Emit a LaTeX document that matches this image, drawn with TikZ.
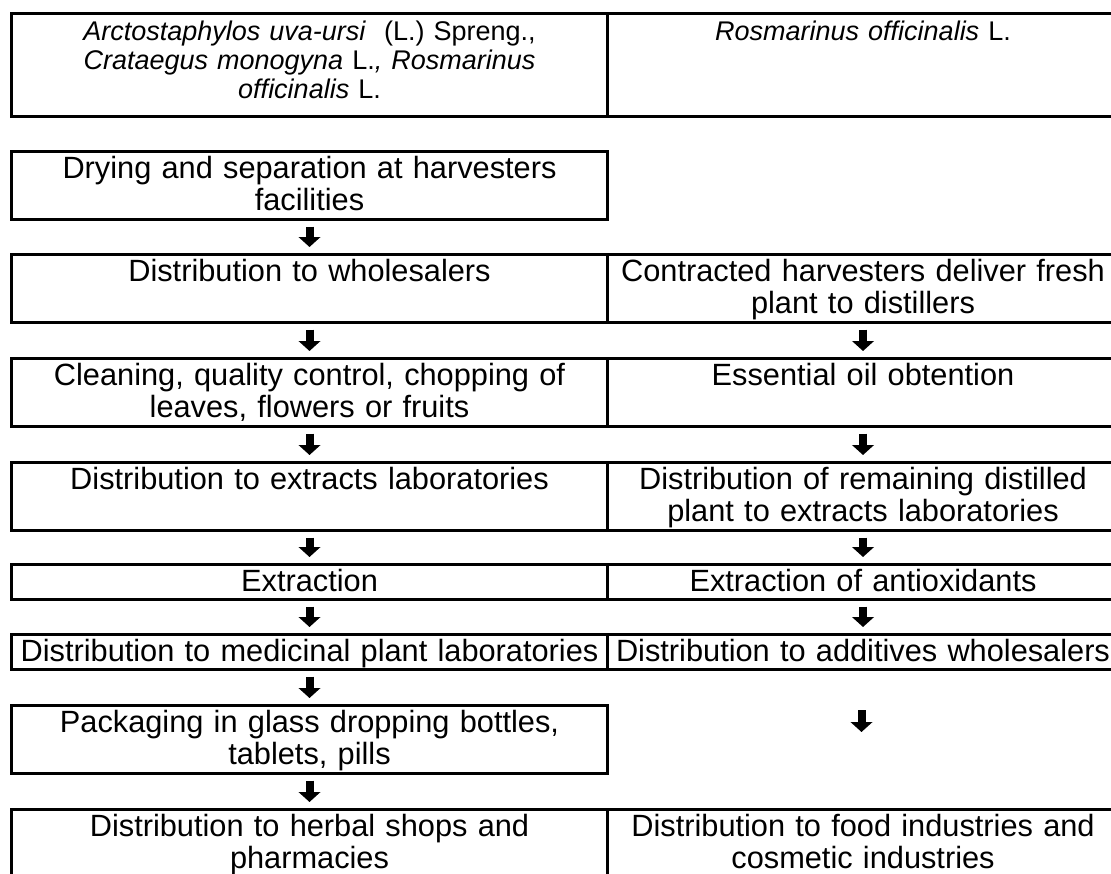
\documentclass[tikz,border=0pt]{standalone}
\usepackage{fontspec}
\setmainfont{Liberation Sans}
\usepackage{tikz}
\usetikzlibrary{arrows.meta}

\begin{document}
\begin{tikzpicture}[x=0.4pt, y=-0.4pt,
    cell/.style={draw, line width=1.2pt, anchor=north west, inner xsep=3pt, inner ysep=0pt,
        align=center, text height=10.6pt, text depth=16.6pt, font=\fontsize{12.3}{13}\selectfont},
    lcell/.style={cell, text width=232.4pt},
    rcell/.style={cell, text width=198.4pt},
    species/.style={text depth=30.6pt, font=\fontsize{10.8}{11.6}\selectfont},
    short/.style={text depth=3.4pt},
    flowarrow/.style={line width=3.2pt, -{Triangle[width=8.6pt,length=4pt]},
        shorten <=2.2pt, shorten >=2.4pt}]
    \useasboundingbox (0,0) rectangle (1111,873);
    \clip (0,0) rectangle (1111,873);

    % plant species
    \node[lcell, species] (topL) at (10,12) {\textit{Arctostaphylos uva-ursi}\ \ (L.) Spreng.,\\
        \textit{Crataegus monogyna} L.\textit{,} \textit{Rosmarinus}\\ \textit{officinalis} L.};
    \node[rcell, species] (topR) at (606,12) {\textit{Rosmarinus officinalis} L.};

    % left chain
    \node[lcell] (dryL) at (10,150) {Drying and separation at harvesters\\ facilities};
    \node[lcell] (wholeL) at (10,253) {Distribution to wholesalers};
    \node[lcell] (cleanL) at (10,357) {Cleaning, quality control, chopping of\\ leaves, flowers or fruits};
    \node[lcell] (extrL) at (10,461) {Distribution to extracts laboratories};
    \node[lcell, short] (extractL) at (10,563) {Extraction};
    \node[lcell, short] (medL) at (10,633) {Distribution to medicinal plant laboratories};
    \node[lcell] (packL) at (10,704) {Packaging in glass dropping bottles,\\ tablets, pills};
    \node[lcell] (herbL) at (10,808) {Distribution to herbal shops and\\ pharmacies};

    % right chain
    \node[rcell] (contrR) at (606,253) {Contracted harvesters deliver fresh\\ plant to distillers};
    \node[rcell] (oilR) at (606,357) {Essential oil obtention};
    \node[rcell] (remR) at (606,461) {Distribution of remaining distilled\\ plant to extracts laboratories};
    \node[rcell, short] (antiR) at (606,563) {Extraction of antioxidants};
    \node[rcell, short] (addR) at (606,633) {Distribution to additives wholesalers};
    \node[rcell] (foodR) at (606,808) {Distribution to food industries and\\ cosmetic industries};
    \coordinate (gapTop) at (861.5,710);
    \coordinate (gapBot) at (861.5,732);

    \draw[flowarrow] (dryL) -- (wholeL);
    \draw[flowarrow] (wholeL) -- (cleanL);
    \draw[flowarrow] (cleanL) -- (extrL);
    \draw[flowarrow] (extrL) -- (extractL);
    \draw[flowarrow] (extractL) -- (medL);
    \draw[flowarrow] (medL) -- (packL);
    \draw[flowarrow] (packL) -- (herbL);

    \draw[flowarrow] (contrR) -- (oilR);
    \draw[flowarrow] (oilR) -- (remR);
    \draw[flowarrow] (remR) -- (antiR);
    \draw[flowarrow] (antiR) -- (addR);
    \draw[flowarrow, shorten <=0pt, shorten >=0pt] (gapTop) -- (gapBot);
\end{tikzpicture}
\end{document}
